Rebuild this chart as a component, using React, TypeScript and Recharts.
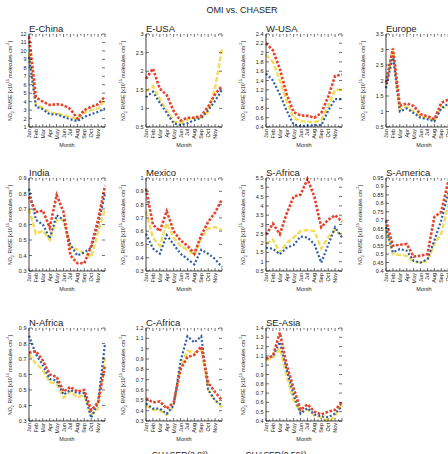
import React from "react";
import { LineChart, Line, XAxis, YAxis } from "recharts";

const MONTH_LABELS = ["Jan", "Feb", "Mar", "Apr", "May", "Jun", "Jul", "Aug", "Sep", "Oct", "Nov", ""];
const LEGEND_NAMES = ["CHASER(2.8°)", "CHASER(0.56°)"];

// RMSE per region: red / yellow / blue runs
const E_CHINA_RED = [11.7, 4.5, 4.0, 3.6, 3.7, 3.6, 3.1, 2.0, 3.0, 3.4, 3.7, 4.6];
const E_CHINA_YEL = [9.8, 3.6, 3.3, 2.7, 2.6, 2.4, 2.2, 1.9, 2.7, 3.0, 3.2, 4.2];
const E_CHINA_BLUE = [9.3, 3.4, 3.1, 2.5, 2.5, 2.2, 1.9, 1.7, 2.2, 2.5, 2.8, 3.2];
const E_CHINA_TICKS = [1, 2, 3, 4, 5, 6, 7, 8, 9, 10, 11, 12];

const E_USA_RED = [1.8, 2.07, 1.53, 1.36, 0.93, 0.67, 0.75, 0.75, 0.8, 1.05, 1.38, 1.6];
const E_USA_YEL = [1.45, 1.6, 1.25, 0.95, 0.65, 0.6, 0.7, 0.75, 0.75, 0.9, 1.55, 2.6];
const E_USA_BLUE = [1.3, 1.45, 1.15, 0.88, 0.6, 0.55, 0.6, 0.68, 0.75, 0.95, 1.2, 1.5];
const E_USA_TICKS = [0.5, 1, 1.5, 2, 2.5, 3];

const W_USA_RED = [2.2, 2.05, 1.65, 1.1, 0.72, 0.65, 0.64, 0.6, 0.7, 1.05, 1.5, 1.53];
const W_USA_YEL = [1.95, 1.8, 1.4, 0.95, 0.6, 0.52, 0.52, 0.5, 0.55, 0.85, 1.2, 1.2];
const W_USA_BLUE = [1.55, 1.4, 1.1, 0.75, 0.45, 0.42, 0.43, 0.44, 0.44, 0.75, 1.0, 1.0];
const W_USA_TICKS = [0.4, 0.6, 0.8, 1, 1.2, 1.4, 1.6, 1.8, 2, 2.2, 2.4];

const EUROPE_RED = [1.93, 3.03, 1.18, 1.26, 1.18, 0.91, 0.85, 0.75, 1.28, 1.38, 1.45, 1.5];
const EUROPE_YEL = [1.85, 3.05, 1.05, 1.15, 1.0, 0.85, 0.8, 0.7, 1.15, 1.1, 1.2, 1.3];
const EUROPE_BLUE = [1.75, 2.8, 1.0, 1.1, 0.95, 0.8, 0.75, 0.68, 1.1, 1.25, 1.3, 1.35];
const EUROPE_TICKS = [0.5, 1, 1.5, 2, 2.5, 3, 3.5];

const INDIA_RED = [0.78, 0.68, 0.69, 0.58, 0.79, 0.68, 0.4, 0.35, 0.35, 0.46, 0.63, 0.85];
const INDIA_YEL = [0.7, 0.54, 0.56, 0.5, 0.63, 0.63, 0.45, 0.44, 0.41, 0.39, 0.55, 0.7];
const INDIA_BLUE = [0.83, 0.63, 0.6, 0.51, 0.66, 0.63, 0.47, 0.4, 0.42, 0.45, 0.6, 0.8];
const INDIA_TICKS = [0.3, 0.4, 0.5, 0.6, 0.7, 0.8, 0.9];

const MEXICO_RED = [0.92, 0.65, 0.6, 0.75, 0.6, 0.53, 0.49, 0.43, 0.57, 0.67, 0.74, 0.84];
const MEXICO_YEL = [0.75, 0.55, 0.49, 0.66, 0.55, 0.49, 0.46, 0.42, 0.55, 0.62, 0.63, 0.61];
const MEXICO_BLUE = [0.58, 0.47, 0.43, 0.57, 0.5, 0.43, 0.39, 0.35, 0.46, 0.43, 0.39, 0.33];
const MEXICO_TICKS = [0.3, 0.4, 0.5, 0.6, 0.7, 0.8, 0.9, 1];

const S_AFRICA_RED = [2.45, 3.05, 2.48, 3.6, 4.5, 4.6, 5.45, 4.5, 2.85, 3.25, 3.5, 3.15];
const S_AFRICA_YEL = [1.95, 2.2, 1.5, 2.0, 2.3, 2.65, 2.7, 2.65, 1.7, 2.3, 2.7, 2.4];
const S_AFRICA_BLUE = [1.75, 1.7, 1.4, 1.75, 1.9, 2.35, 2.3, 1.95, 0.95, 1.9, 2.85, 2.3];
const S_AFRICA_TICKS = [0.5, 1, 1.5, 2, 2.5, 3, 3.5, 4, 4.5, 5, 5.5];

const S_AMERICA_RED = [0.7, 0.55, 0.555, 0.56, 0.485, 0.49, 0.5, 0.72, 0.75, 0.93, 0.94, 0.9];
const S_AMERICA_YEL = [0.64, 0.5, 0.495, 0.49, 0.455, 0.45, 0.46, 0.56, 0.62, 0.79, 0.85, 0.82];
const S_AMERICA_BLUE = [0.66, 0.51, 0.53, 0.52, 0.46, 0.45, 0.47, 0.58, 0.7, 0.86, 0.88, 0.85];
const S_AMERICA_TICKS = [0.4, 0.45, 0.5, 0.55, 0.6, 0.65, 0.7, 0.75, 0.8, 0.85, 0.9, 0.95];

const N_AFRICA_RED = [0.74, 0.75, 0.69, 0.6, 0.585, 0.49, 0.52, 0.49, 0.5, 0.37, 0.42, 0.66];
const N_AFRICA_YEL = [0.73, 0.67, 0.63, 0.55, 0.54, 0.45, 0.49, 0.45, 0.47, 0.34, 0.38, 0.72];
const N_AFRICA_BLUE = [0.85, 0.73, 0.66, 0.57, 0.56, 0.47, 0.5, 0.48, 0.48, 0.32, 0.42, 0.8];
const N_AFRICA_TICKS = [0.3, 0.4, 0.5, 0.6, 0.7, 0.8, 0.9];

const C_AFRICA_RED = [0.52, 0.48, 0.49, 0.42, 0.48, 0.8, 0.92, 0.94, 1.02, 0.67, 0.58, 0.5];
const C_AFRICA_YEL = [0.45, 0.41, 0.4, 0.36, 0.44, 0.82, 0.98, 0.96, 1.0, 0.6, 0.5, 0.43];
const C_AFRICA_BLUE = [0.47, 0.42, 0.42, 0.37, 0.45, 0.88, 1.12, 1.06, 1.12, 0.6, 0.5, 0.45];
const C_AFRICA_TICKS = [0.3, 0.4, 0.5, 0.6, 0.7, 0.8, 0.9, 1, 1.1, 1.2];

const SE_ASIA_RED = [1.07, 1.1, 1.35, 1.0, 0.75, 0.52, 0.58, 0.5, 0.47, 0.5, 0.52, 0.6];
const SE_ASIA_YEL = [1.05, 1.08, 1.18, 0.88, 0.62, 0.5, 0.52, 0.46, 0.44, 0.4, 0.45, 0.6];
const SE_ASIA_BLUE = [1.07, 1.1, 1.25, 0.95, 0.68, 0.48, 0.54, 0.47, 0.45, 0.44, 0.48, 0.56];
const SE_ASIA_TICKS = [0.4, 0.5, 0.6, 0.7, 0.8, 0.9, 1, 1.1, 1.2, 1.3, 1.4];

type Panel = {
  title: string;
  col: number;
  row: number;
  ticks: number[];
  red: number[];
  yel: number[];
  blue: number[];
};

const PANELS: Panel[] = [
  { title: "E-China", col: 0, row: 0, ticks: E_CHINA_TICKS, red: E_CHINA_RED, yel: E_CHINA_YEL, blue: E_CHINA_BLUE },
  { title: "E-USA", col: 1, row: 0, ticks: E_USA_TICKS, red: E_USA_RED, yel: E_USA_YEL, blue: E_USA_BLUE },
  { title: "W-USA", col: 2, row: 0, ticks: W_USA_TICKS, red: W_USA_RED, yel: W_USA_YEL, blue: W_USA_BLUE },
  { title: "Europe", col: 3, row: 0, ticks: EUROPE_TICKS, red: EUROPE_RED, yel: EUROPE_YEL, blue: EUROPE_BLUE },
  { title: "India", col: 0, row: 1, ticks: INDIA_TICKS, red: INDIA_RED, yel: INDIA_YEL, blue: INDIA_BLUE },
  { title: "Mexico", col: 1, row: 1, ticks: MEXICO_TICKS, red: MEXICO_RED, yel: MEXICO_YEL, blue: MEXICO_BLUE },
  { title: "S-Africa", col: 2, row: 1, ticks: S_AFRICA_TICKS, red: S_AFRICA_RED, yel: S_AFRICA_YEL, blue: S_AFRICA_BLUE },
  { title: "S-America", col: 3, row: 1, ticks: S_AMERICA_TICKS, red: S_AMERICA_RED, yel: S_AMERICA_YEL, blue: S_AMERICA_BLUE },
  { title: "N-Africa", col: 0, row: 2, ticks: N_AFRICA_TICKS, red: N_AFRICA_RED, yel: N_AFRICA_YEL, blue: N_AFRICA_BLUE },
  { title: "C-Africa", col: 1, row: 2, ticks: C_AFRICA_TICKS, red: C_AFRICA_RED, yel: C_AFRICA_YEL, blue: C_AFRICA_BLUE },
  { title: "SE-Asia", col: 2, row: 2, ticks: SE_ASIA_TICKS, red: SE_ASIA_RED, yel: SE_ASIA_YEL, blue: SE_ASIA_BLUE },
];

// layout
const PL = 28;
const PT = 4;
const PW = 76;
const PH = 93;
const MR = 6;
const XH = 16;
const CHART_W = PL + PW + MR;
const CHART_H = PT + PH + XH;
const COL_X = [29, 146, 266, 386];
const ROW_Y = [34, 178, 328];

const FONT = '"Liberation Sans", Arial, Helvetica, sans-serif';
const RED = "#e5432e";
const YEL = "#f3dd58";
const BLUE = "#2e5ea8";
const INK = "#222";
const FRAME = { stroke: "#111", strokeWidth: 0.8 };

const X_TICKS = MONTH_LABELS.flatMap((_, i) => (i < 11 ? [i, i + 0.5] : [i]));

const labelWidth = (s: string) =>
  s.split("").reduce((w, ch) => w + (ch === "." ? 1.53 : 3.06), 0);

function XTick({ x, payload }: any) {
  const v = payload.value as number;
  const major = Number.isInteger(v);
  const len = major ? 3 : 1.6;
  return (
    <g>
      <line x1={x} x2={x} y1={PT + PH} y2={PT + PH - len} stroke="#111" strokeWidth={0.6} />
      <line x1={x} x2={x} y1={PT} y2={PT + len} stroke="#111" strokeWidth={0.6} />
      {major ? (
        <text
          transform={`translate(${x},${PT + PH + 2}) rotate(-90)`}
          textAnchor="end"
          dominantBaseline="central"
          fontSize={5.5}
          fontFamily={FONT}
          fill={INK}
        >
          {MONTH_LABELS[v]}
        </text>
      ) : null}
    </g>
  );
}

function YTick({ y, payload }: any) {
  return (
    <g>
      <line x1={PL} x2={PL + 3} y1={y} y2={y} stroke="#111" strokeWidth={0.6} />
      <line x1={PL + PW - 3} x2={PL + PW} y1={y} y2={y} stroke="#111" strokeWidth={0.6} />
      <text
        x={PL - 2.5}
        y={y}
        textAnchor="end"
        dominantBaseline="central"
        fontSize={5.5}
        fontFamily={FONT}
        fill={INK}
      >
        {payload.value}
      </text>
    </g>
  );
}

function RegionPanel({ p }: { p: Panel }) {
  const data = MONTH_LABELS.map((_, i) => ({
    m: i,
    red: p.red[i],
    yel: p.yel[i],
    blue: p.blue[i],
  }));
  const lo = p.ticks[0];
  const hi = p.ticks[p.ticks.length - 1];
  const widest = Math.max(...p.ticks.map((t) => labelWidth(String(t))));
  const gap = p.col === 0 ? 19.5 : 15.5 + widest;

  return (
    <div
      style={{
        position: "absolute",
        left: COL_X[p.col] - PL,
        top: ROW_Y[p.row] - PT,
        width: CHART_W,
        height: CHART_H + 20,
      }}
    >
      <div
        style={{
          position: "absolute",
          left: PL,
          top: PT - 10.1,
          fontSize: 9.5,
          lineHeight: "9.5px",
          whiteSpace: "nowrap",
          color: INK,
        }}
      >
        {p.title}
      </div>
      <div
        style={{
          position: "absolute",
          left: PL - gap,
          top: PT + PH / 2,
          transform: "translate(-50%,-50%) rotate(-90deg)",
          fontSize: 5.2,
          lineHeight: "6px",
          whiteSpace: "nowrap",
          color: INK,
        }}
      >
        NO<sub style={{ fontSize: 3.8, lineHeight: 0 }}>2</sub> RMSE [x10
        <sup style={{ fontSize: 3.8, lineHeight: 0 }}>15</sup> molecules cm
        <sup style={{ fontSize: 3.8, lineHeight: 0 }}>-2</sup>]
      </div>
      <LineChart
        width={CHART_W}
        height={CHART_H}
        data={data}
        margin={{ top: PT, right: MR, left: 0, bottom: 0 }}
      >
        <XAxis
          dataKey="m"
          type="number"
          domain={[0, 11]}
          ticks={X_TICKS}
          interval={0}
          height={XH}
          tickLine={false}
          axisLine={FRAME}
          tick={<XTick />}
        />
        <XAxis
          xAxisId="top"
          orientation="top"
          type="number"
          domain={[0, 11]}
          height={0}
          tick={false}
          tickLine={false}
          axisLine={FRAME}
        />
        <YAxis
          type="number"
          domain={[lo, hi]}
          ticks={p.ticks}
          interval={0}
          width={PL}
          tickLine={false}
          axisLine={FRAME}
          tick={<YTick />}
        />
        <YAxis
          yAxisId="right"
          orientation="right"
          type="number"
          domain={[lo, hi]}
          width={0}
          tick={false}
          tickLine={false}
          axisLine={FRAME}
        />
        <Line
          dataKey="yel"
          stroke={YEL}
          strokeWidth={2.4}
          strokeDasharray="5 2"
          dot={false}
          isAnimationActive={false}
        />
        <Line
          dataKey="blue"
          stroke={BLUE}
          strokeWidth={2.2}
          strokeDasharray="2 2"
          dot={false}
          isAnimationActive={false}
        />
        <Line
          dataKey="red"
          stroke={RED}
          strokeWidth={2.6}
          strokeDasharray="2.6 1.6"
          dot={false}
          isAnimationActive={false}
        />
      </LineChart>
      <div
        style={{
          position: "absolute",
          left: PL + PW / 2,
          top: PT + PH + 15.5,
          transform: "translateX(-50%)",
          fontSize: 5.5,
          lineHeight: "5.5px",
          whiteSpace: "nowrap",
          color: INK,
        }}
      >
        Month
      </div>
    </div>
  );
}

export default function App() {
  return (
    <div
      style={{
        position: "fixed",
        left: 0,
        top: 0,
        width: 448,
        height: 454,
        overflow: "hidden",
        background: "#fff",
        fontFamily: FONT,
      }}
    >
      <div
        style={{
          position: "absolute",
          left: 242,
          top: 6,
          transform: "translateX(-50%)",
          fontSize: 9,
          lineHeight: "9px",
          whiteSpace: "nowrap",
          color: INK,
        }}
      >
        OMI vs. CHASER
      </div>
      {PANELS.map((p) => (
        <RegionPanel key={p.title} p={p} />
      ))}
      {LEGEND_NAMES.map((name, i) => (
        <div
          key={name}
          style={{
            position: "absolute",
            left: i === 0 ? 180 : 276,
            top: 450.7,
            transform: "translateX(-50%)",
            fontSize: 8.5,
            lineHeight: "8.5px",
            whiteSpace: "nowrap",
            color: INK,
          }}
        >
          {name}
        </div>
      ))}
    </div>
  );
}
